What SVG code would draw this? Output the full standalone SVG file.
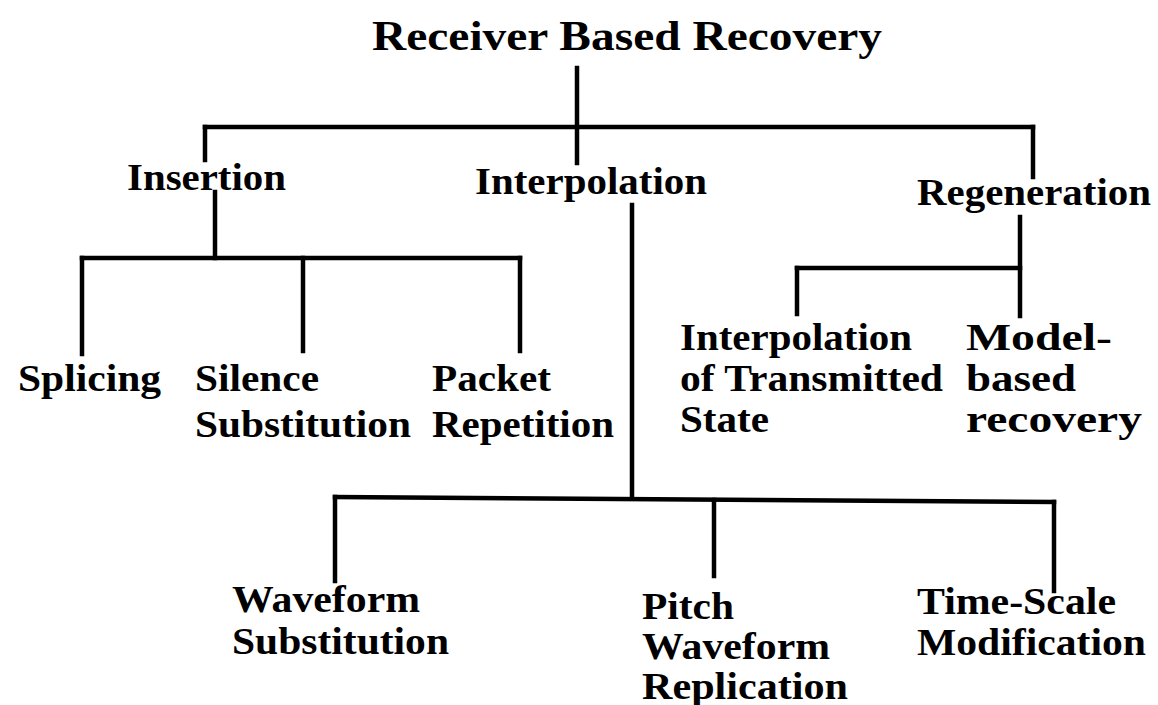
<svg xmlns="http://www.w3.org/2000/svg" width="1158" height="705" viewBox="0 0 1158 705">
  <style>
    .t { font-family: "Liberation Serif", "Times New Roman", serif; font-weight: bold; font-size: 38px; fill: #000; }
    .title { font-size: 42px; }
    .c { fill: none; stroke: #000; stroke-width: 4.5; stroke-linecap: square; }
  </style>
  <rect width="1158" height="705" fill="#fff"/>

  <g id="connectors">
    <!-- root to level 1 -->
    <path class="c" d="M577 68 V163"/>
    <path class="c" d="M205 127 H1033"/>
    <path class="c" d="M205 127 V160"/>
    <path class="c" d="M1033 127 V177"/>
    <!-- insertion branch -->
    <path class="c" d="M215 192 V258"/>
    <path class="c" d="M82 258 H520"/>
    <path class="c" d="M82 258 V354"/>
    <path class="c" d="M303 258 V351"/>
    <path class="c" d="M520 258 V351"/>
    <!-- interpolation branch -->
    <path class="c" d="M632 205 V498"/>
    <path class="c" d="M335 497 L1054 502"/>
    <path class="c" d="M335 497 V581"/>
    <path class="c" d="M714 500 V576"/>
    <path class="c" d="M1054 502 V591"/>
    <!-- regeneration branch -->
    <path class="c" d="M1020 217 V316"/>
    <path class="c" d="M797 268 H1020"/>
    <path class="c" d="M797 268 V314"/>
  </g>

  <g id="root"><text class="t title" x="372" y="50" textLength="510" lengthAdjust="spacingAndGlyphs">Receiver Based Recovery</text></g>

  <g id="insertion"><text class="t" x="127" y="190" textLength="159" lengthAdjust="spacingAndGlyphs">Insertion</text></g>
  <g id="interpolation"><text class="t" x="475" y="194" textLength="232" lengthAdjust="spacingAndGlyphs">Interpolation</text></g>
  <g id="regeneration"><text class="t" x="917" y="205" textLength="234" lengthAdjust="spacingAndGlyphs">Regeneration</text></g>

  <g id="splicing"><text class="t" x="18" y="391" textLength="143" lengthAdjust="spacingAndGlyphs">Splicing</text></g>
  <g id="silence-substitution">
    <text class="t" x="195" y="391" textLength="124" lengthAdjust="spacingAndGlyphs">Silence</text>
    <text class="t" x="195" y="437" textLength="216" lengthAdjust="spacingAndGlyphs">Substitution</text>
  </g>
  <g id="packet-repetition">
    <text class="t" x="432" y="391" textLength="119" lengthAdjust="spacingAndGlyphs">Packet</text>
    <text class="t" x="432" y="437" textLength="182" lengthAdjust="spacingAndGlyphs">Repetition</text>
  </g>

  <g id="interpolation-transmitted-state">
    <text class="t" x="680" y="350" textLength="232" lengthAdjust="spacingAndGlyphs">Interpolation</text>
    <text class="t" x="680" y="391" textLength="263" lengthAdjust="spacingAndGlyphs">of Transmitted</text>
    <text class="t" x="680" y="432" textLength="89" lengthAdjust="spacingAndGlyphs">State</text>
  </g>
  <g id="model-based-recovery">
    <text class="t" x="966" y="350" textLength="146" lengthAdjust="spacingAndGlyphs">Model-</text>
    <text class="t" x="966" y="391" textLength="110" lengthAdjust="spacingAndGlyphs">based</text>
    <text class="t" x="966" y="432" textLength="176" lengthAdjust="spacingAndGlyphs">recovery</text>
  </g>

  <g id="waveform-substitution">
    <text class="t" x="232" y="612" textLength="188" lengthAdjust="spacingAndGlyphs">Waveform</text>
    <text class="t" x="232" y="654" textLength="217" lengthAdjust="spacingAndGlyphs">Substitution</text>
  </g>
  <g id="pitch-waveform-replication">
    <text class="t" x="642" y="619" textLength="92" lengthAdjust="spacingAndGlyphs">Pitch</text>
    <text class="t" x="642" y="659" textLength="188" lengthAdjust="spacingAndGlyphs">Waveform</text>
    <text class="t" x="642" y="699" textLength="206" lengthAdjust="spacingAndGlyphs">Replication</text>
  </g>
  <g id="time-scale-modification">
    <text class="t" x="917" y="614" textLength="199" lengthAdjust="spacingAndGlyphs">Time-Scale</text>
    <text class="t" x="917" y="655" textLength="229" lengthAdjust="spacingAndGlyphs">Modification</text>
  </g>
</svg>
